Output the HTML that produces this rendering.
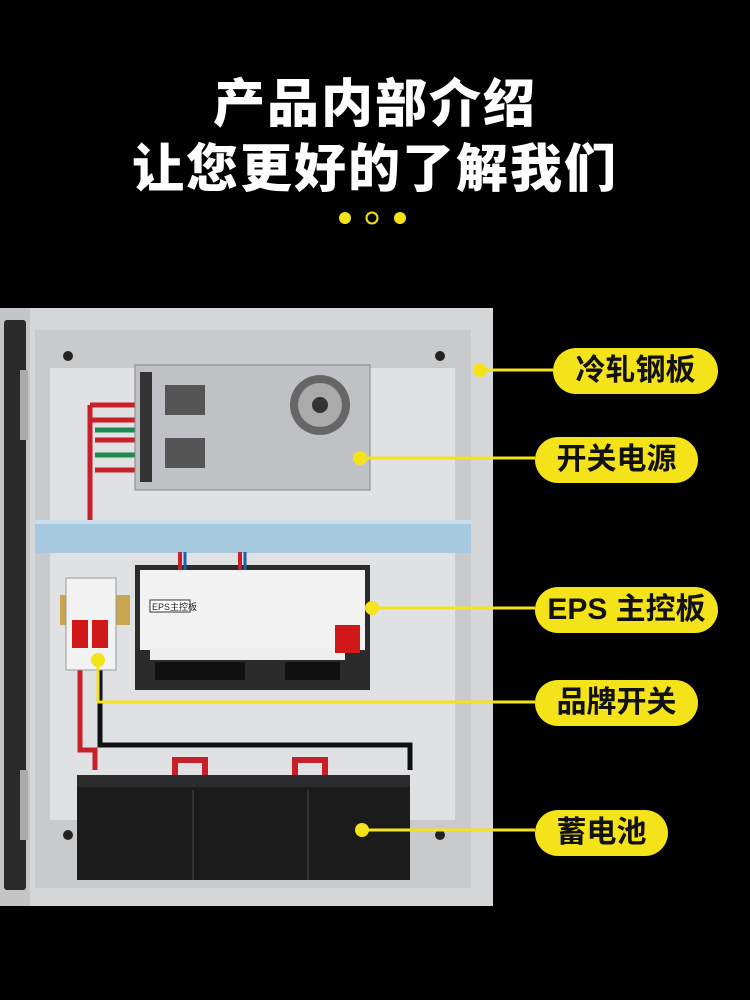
<!DOCTYPE html>
<html><head><meta charset="utf-8"><style>
html,body{margin:0;padding:0;background:#000;}
body{width:750px;height:1000px;position:relative;overflow:hidden;font-family:"Liberation Sans","Noto Sans CJK SC",sans-serif;}
.t{position:absolute;left:0;width:750px;text-align:center;color:#fff;font-weight:900;font-size:52px;letter-spacing:2px;}
.pill{position:absolute;background:#f5e31a;border-radius:23px;height:46px;line-height:46px;color:#111;font-weight:700;font-size:30px;text-align:center;}
</style></head><body>
<div class="t" style="top:62px">产品内部介绍</div>
<div class="t" style="top:127px">让您更好的了解我们</div>
<svg width="750" height="1000" style="position:absolute;left:0;top:0">
<circle cx="345" cy="218" r="6" fill="#f5e31a"/>
<circle cx="372" cy="218" r="5.5" fill="none" stroke="#f5e31a" stroke-width="2"/>
<circle cx="400" cy="218" r="6" fill="#f5e31a"/>
<rect x="0" y="308" width="493" height="598" fill="#d5d6d8"/>
<rect x="0" y="308" width="30" height="598" fill="#c4c5c7"/>
<rect x="4" y="320" width="22" height="570" fill="#2a2a2a" rx="3"/>
<rect x="35" y="330" width="436" height="558" fill="#c9cacc"/>
<rect x="50" y="368" width="405" height="452" fill="#e0e1e3"/>
<rect x="20" y="370" width="8" height="70" fill="#aaa"/>
<rect x="20" y="770" width="8" height="70" fill="#aaa"/>
<circle cx="68" cy="356" r="5" fill="#222"/><circle cx="440" cy="356" r="5" fill="#222"/>
<circle cx="68" cy="835" r="5" fill="#222"/><circle cx="440" cy="835" r="5" fill="#222"/>
<path d="M90 405 H140 M92 420H140 M95 440H140 M95 470H140" stroke="#c8202a" stroke-width="5" fill="none"/>
<path d="M95 430H140 M95 455H140" stroke="#1e8a52" stroke-width="5" fill="none"/>
<path d="M90 405 V520" stroke="#c8202a" stroke-width="5"/>
<path d="M80 660 V750 H95 V770" stroke="#c8202a" stroke-width="5" fill="none"/>
<path d="M100 660 V745 H410 V770" stroke="#111" stroke-width="5" fill="none"/>
<rect x="135" y="365" width="235" height="125" fill="#bfc1c4" stroke="#888"/>
<rect x="140" y="372" width="12" height="110" fill="#333"/>
<g fill="#555"><rect x="165" y="385" width="40" height="30"/><rect x="165" y="438" width="40" height="30"/></g>
<circle cx="320" cy="405" r="30" fill="#666"/><circle cx="320" cy="405" r="22" fill="#aaa"/><circle cx="320" cy="405" r="8" fill="#333"/>
<rect x="35" y="520" width="436" height="33" fill="#a7c9df"/>
<rect x="35" y="520" width="436" height="4" fill="#c8dfee"/>
<rect x="135" y="565" width="235" height="125" fill="#2b2b2b"/>
<rect x="140" y="570" width="225" height="80" fill="#f2f2f2"/>
<rect x="150" y="600" width="40" height="12" fill="#fff" stroke="#333"/>
<text x="152" y="610" font-size="9" fill="#222">EPS主控板</text>
<rect x="150" y="648" width="195" height="12" fill="#eee"/>
<g fill="#111"><rect x="155" y="662" width="90" height="18"/><rect x="285" y="662" width="55" height="18"/></g>
<rect x="335" y="625" width="25" height="28" fill="#d01818"/>
<path d="M180 552V570 M240 552V570" stroke="#c8202a" stroke-width="4"/>
<path d="M185 552V570 M245 552V570" stroke="#1e5fb0" stroke-width="3"/>
<rect x="60" y="595" width="70" height="30" fill="#c9a550"/>
<rect x="66" y="578" width="50" height="92" fill="#f2f2f2" stroke="#999"/>
<rect x="72" y="620" width="16" height="28" fill="#d01818"/><rect x="92" y="620" width="16" height="28" fill="#d01818"/>
<rect x="77" y="775" width="333" height="105" fill="#1b1b1c"/>
<rect x="77" y="775" width="333" height="12" fill="#2c2c2e"/>
<path d="M175 775V760H205V775 M295 775V760H325V775" stroke="#c8202a" stroke-width="6" fill="none"/>
<path d="M193 790V880 M308 790V880" stroke="#333" stroke-width="2"/>
<g stroke="#f5e31a" stroke-width="3" fill="none">
<path d="M480 370H553"/><path d="M360 458H535"/><path d="M372 608H535"/>
<path d="M98 660V702H535"/><path d="M362 830H535"/>
</g>
<g fill="#f5e31a"><circle cx="480" cy="370" r="7"/><circle cx="360" cy="458" r="7"/><circle cx="372" cy="608" r="7"/><circle cx="98" cy="660" r="7"/><circle cx="362" cy="830" r="7"/></g>
</svg>
<div class="pill" style="left:553px;top:348px;width:165px">冷轧钢板</div>
<div class="pill" style="left:535px;top:437px;width:163px">开关电源</div>
<div class="pill" style="left:535px;top:587px;width:183px">EPS 主控板</div>
<div class="pill" style="left:535px;top:680px;width:163px">品牌开关</div>
<div class="pill" style="left:535px;top:810px;width:133px">蓄电池</div>
</body></html>
